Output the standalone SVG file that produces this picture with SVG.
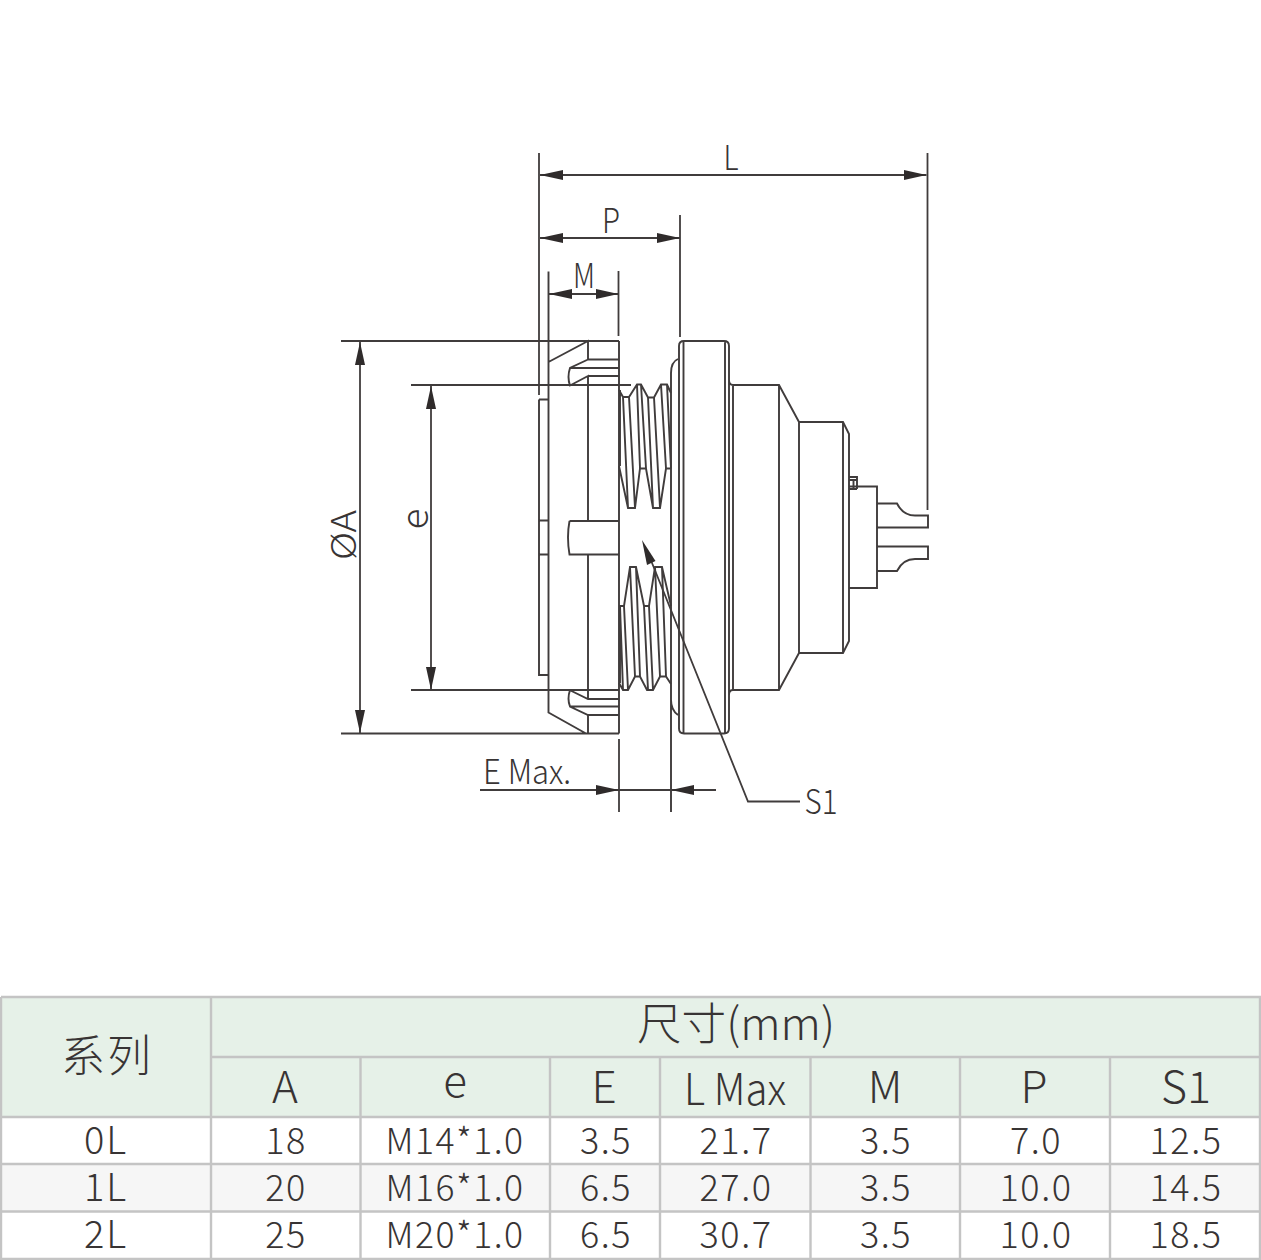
<svg xmlns="http://www.w3.org/2000/svg" width="1261" height="1260" viewBox="0 0 1261 1260">
<style>
.l{fill:none;stroke:#403c3c;stroke-width:1.9;stroke-linejoin:miter}
.d{fill:none;stroke:#403c3c;stroke-width:1.8}
.g{fill:none;stroke:#c4c4c4;stroke-width:2.4}
text{font-family:"Noto Sans CJK SC","Noto Sans",sans-serif;font-weight:300;fill:#383434;text-anchor:middle}
.c{font-size:36px;letter-spacing:1.5px}
.s{font-size:38px;letter-spacing:2px}
.h{font-size:44px}
.t{font-size:34px}
</style>
<defs>
<marker id="a" viewBox="0 0 23 10" refX="23" refY="5" markerWidth="23" markerHeight="10" markerUnits="userSpaceOnUse" orient="auto-start-reverse"><path d="M0 0L23 5L0 10z" fill="#2f2b2b"/></marker>
</defs>
<rect width="1261" height="1260" fill="#fff"/>
<g id="drawing">
<path class="l" d="M341 341H619M341 733.5H619M548.5 271.5V712.5L586 733.5M548.5 362L588 341V359.5H619M588 359.5L570 368Q567 377 570 385.5L588 376V521M570 368H619M588 376H619M411 385H631M411 690H619"/>
<path class="l" d="M539 399.5H548.5M539 399.5V675H548.5M539 520.5H548.5M539 554.5H548.5"/>
<path class="l" d="M619 341V733.5M569.5 521H619M569.5 521Q566.5 537 569.5 554.5H619M588 554.5V690M569.5 690L588 699H619M588 690V699M570 706.5H619M570 690Q567 699 570 706.5L588 715H619M588 715V733.5"/>
<path class="l" d="M619 390L623 397H629L637 384.5H641L648 397.5H654L661 384.5H667L671 393M619 466L628 508H635L640 468.5H646L653 508H660L666 468.5H671M620 390V466M623 397L628 508M629 397L635 508M637 384.5L640 468.5M641 384.5L646 468.5M648 397.5L653 508M654 397.5L660 508M661 384.5L666 468.5M667 384.5L671 468.5"/>
<path class="l" d="M619 606H624L630 567H636L644 606H649L655 567H662L671 606M619 683L623 690H628L635 676.5H640L647 690H653L660 676.5H666L671 684M620 606V683M624 606L628 690M620 606L623 690M630 567L635 676.5M636 567L640 676.5M644 606L648 690M649 606L653 690M655 567L660 676.5M662 567L666 676.5"/>
<path class="l" d="M678 359Q671 362 671 373V812M671 700Q671 710 678 715"/>
<path class="l" d="M684 341H724Q729 341 729 346V728.5Q729 733.5 724 733.5H684Q679 733.5 679 728.5V346Q679 341 684 341ZM683.500 341V733.5M725 341V733.5M729 380Q729 385 733 385H779L799 422H843L849 434V641L843 653H799L779 690H733Q729 690 729 695M733 385V690M779 385V690M799 422V653M843 422V653"/>
<path class="l" d="M849 477H857V489M849 480H857M853.5 480V489M849 489H857M849 486.5H877V588H849M877 503.5H897Q903 515.5 915 515.5H928V527.5H877M877 546.5H928V559H915Q903 559 897 571H877"/>
</g>
<g id="connectors">
<path class="d" d="M539 153V395M927.5 153V510M680 215V337M618.5 271V336M619 739V812"/>
<path class="d" d="M540 175H926.5" marker-start="url(#a)" marker-end="url(#a)"/>
<path class="d" d="M540 238H680" marker-start="url(#a)" marker-end="url(#a)"/>
<path class="d" d="M549 294H618.5" marker-start="url(#a)" marker-end="url(#a)"/>
<path class="d" d="M360 342V733" marker-start="url(#a)" marker-end="url(#a)"/>
<path class="d" d="M431 386V690" marker-start="url(#a)" marker-end="url(#a)"/>
<path class="d" d="M480 790H619" marker-end="url(#a)"/>
<path class="d" d="M716 790H671" marker-end="url(#a)"/>
<path class="d" d="M619 790H671"/>
<path class="d" d="M800 801.500H748L648 553"/>
<path d="M642 540L655.500 561L647 565z" fill="#2f2b2b"/>
</g>
<g id="dim-labels">
<text class="t" x="731" y="170" textLength="15" lengthAdjust="spacingAndGlyphs">L</text>
<text class="t" x="611" y="232.500" textLength="18" lengthAdjust="spacingAndGlyphs">P</text>
<text class="t" x="584" y="288" textLength="22" lengthAdjust="spacingAndGlyphs">M</text>
<text class="t" x="527" y="784" textLength="88" lengthAdjust="spacingAndGlyphs">E Max.</text>
<text class="t" x="821" y="814" textLength="33" lengthAdjust="spacingAndGlyphs">S1</text>
<text class="t" transform="translate(356 535) rotate(-90)" textLength="50" lengthAdjust="spacingAndGlyphs">ØA</text>
<text style="font-size:38px" transform="translate(428 519) rotate(-90)" textLength="21" lengthAdjust="spacingAndGlyphs">e</text>
</g>
<g id="table">
<rect x="1" y="997" width="1259" height="120" fill="#e6f1e8"/>
<rect x="1" y="1164" width="1259" height="47" fill="#f6f6f6"/>
<path class="g" d="M1 997H1260V1259H1V997M211 1057H1260M1 1117H1260M1 1164H1260M1 1211.500H1260M211 997V1259M360.500 1057V1259M550 1057V1259M660 1057V1259M810.500 1057V1259M960 1057V1259M1110 1057V1259"/>
<text class="h" x="106" y="1072" textLength="90">系列</text>
<text class="h" x="736" y="1040" textLength="198" lengthAdjust="spacingAndGlyphs">尺寸(mm)</text>
<text class="h" x="285" y="1103">A</text>
<text class="h" x="455" y="1097">e</text>
<text class="h" x="604" y="1103">E</text>
<text class="h" x="735" y="1105" textLength="102" lengthAdjust="spacingAndGlyphs">L Max</text>
<text class="h" x="885" y="1103">M</text>
<text class="h" x="1034" y="1103">P</text>
<text class="h" x="1186" y="1103" textLength="50" lengthAdjust="spacingAndGlyphs">S1</text>
<text class="s" x="106" y="1154">0L</text><text class="s" x="106" y="1201">1L</text><text class="s" x="106" y="1248">2L</text>
<text class="c" x="286" y="1154">18</text><text class="c" x="286" y="1201">20</text><text class="c" x="286" y="1248">25</text>
<text class="c" x="455" y="1154" textLength="139" lengthAdjust="spacingAndGlyphs">M14*1.0</text><text class="c" x="455" y="1201" textLength="139" lengthAdjust="spacingAndGlyphs">M16*1.0</text><text class="c" x="455" y="1248" textLength="139" lengthAdjust="spacingAndGlyphs">M20*1.0</text>
<text class="c" x="606" y="1154">3.5</text><text class="c" x="606" y="1201">6.5</text><text class="c" x="606" y="1248">6.5</text>
<text class="c" x="736" y="1154">21.7</text><text class="c" x="736" y="1201">27.0</text><text class="c" x="736" y="1248">30.7</text>
<text class="c" x="886" y="1154">3.5</text><text class="c" x="886" y="1201">3.5</text><text class="c" x="886" y="1248">3.5</text>
<text class="c" x="1036" y="1154">7.0</text><text class="c" x="1036" y="1201">10.0</text><text class="c" x="1036" y="1248">10.0</text>
<text class="c" x="1186" y="1154">12.5</text><text class="c" x="1186" y="1201">14.5</text><text class="c" x="1186" y="1248">18.5</text>
</g>
</svg>
